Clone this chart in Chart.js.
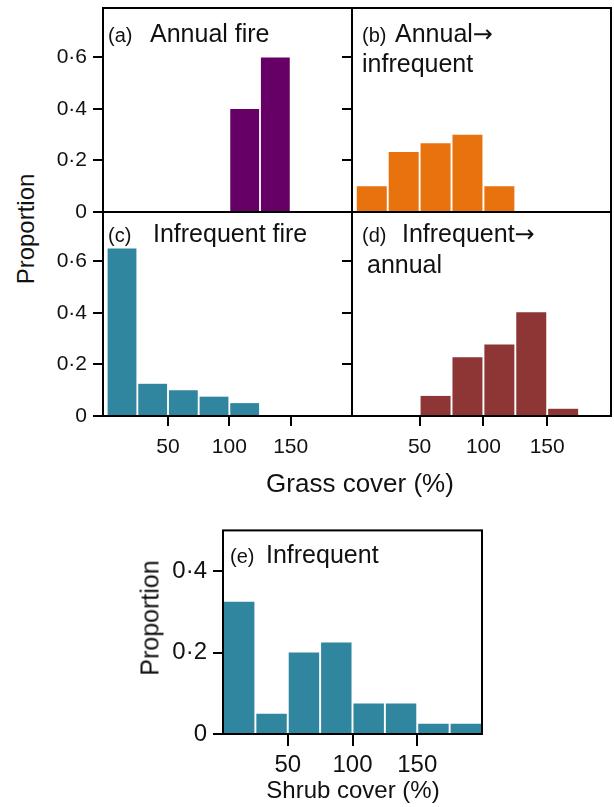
<!DOCTYPE html>
<html>
<head>
<meta charset="utf-8">
<script src="https://cdn.jsdelivr.net/npm/chart.js@4.4.0/dist/chart.umd.min.js"></script>
<style>
  body { margin: 0; background: #fff; }
  #fig { position: relative; width: 614px; height: 807px; overflow: hidden; font-family: "Liberation Sans", Arial, sans-serif; color: #111; }
  #fig canvas { position: absolute; }
  .lbl { position: absolute; white-space: nowrap; line-height: 1; }
  .tag { font-size: 20px; }
  .name { font-size: 25px; }
  .arrow { font-family: "DejaVu Sans", sans-serif; font-size: 24px; }
  .mid { transform: translate(-50%, -50%); }
  .vert { transform: translate(-50%, -50%) rotate(-90deg); }
</style>
</head>
<body>
<div id="fig">
  <canvas id="panelA"></canvas>
  <canvas id="panelB"></canvas>
  <canvas id="panelC"></canvas>
  <canvas id="panelD"></canvas>
  <canvas id="panelE"></canvas>

  <!-- panel titles -->
  <div class="lbl tag" style="left:108px; top:25px;">(a)</div>
  <div class="lbl name" style="left:150px; top:21px;">Annual fire</div>
  <div class="lbl tag" style="left:362px; top:25px;">(b)</div>
  <div class="lbl name" style="left:395px; top:21px;">Annual<span class="arrow">→</span></div>
  <div class="lbl name" style="left:362px; top:51px;">infrequent</div>
  <div class="lbl tag" style="left:108px; top:225px;">(c)</div>
  <div class="lbl name" style="left:153px; top:221px;">Infrequent fire</div>
  <div class="lbl tag" style="left:362px; top:225px;">(d)</div>
  <div class="lbl name" style="left:402px; top:221px;">Infrequent<span class="arrow">→</span></div>
  <div class="lbl name" style="left:367px; top:252px;">annual</div>
  <div class="lbl tag" style="left:230px; top:546px;">(e)</div>
  <div class="lbl name" style="left:266px; top:542px;">Infrequent</div>

  <!-- axis titles -->
  <div class="lbl vert" style="left:26px; top:229px; font-size:24px;">Proportion</div>
  <div class="lbl mid" style="left:360px; top:483px; font-size:26px;">Grass cover (%)</div>
  <div class="lbl vert" style="left:150px; top:618px; font-size:25px;">Proportion</div>
  <div class="lbl mid" style="left:353px; top:790px; font-size:24px;">Shrub cover (%)</div>
</div>

<script>
// Histogram bins (mid points, % cover) and proportions
const grassBins = [12.5, 37.5, 62.5, 87.5, 112.5, 137.5, 162.5, 187.5];
const annualFire = [0, 0, 0, 0, 0.4, 0.6, 0, 0];
const annualToInfrequent = [0.1, 0.233, 0.267, 0.3, 0.1, 0, 0, 0];
const infrequentFire = [0.65, 0.125, 0.1, 0.075, 0.05, 0, 0, 0];
const infrequentToAnnual = [0, 0, 0.078, 0.228, 0.278, 0.403, 0.028, 0];

const shrubBins = [12.5, 37.5, 62.5, 87.5, 112.5, 137.5, 162.5, 187.5];
const infrequentShrub = [0.325, 0.05, 0.2, 0.225, 0.075, 0.075, 0.025, 0.025];

// Tick labels
const grassYTicks = [0, 0.2, 0.4, 0.6];
const shrubYTicks = [0, 0.2, 0.4];
const coverTicks = [50, 100, 150];

const PAD = 20;   // spare room round each plot area
const Y_W = 60;   // y axis width
const X_H = 60;   // x axis height

const dotLabel = v => v === 0 ? '0' : String(Math.round(v * 10) / 10).replace('.', '·');

// Box round the plot area
const frame = {
    id: 'frame',
    afterDatasetsDraw(chart) {
        const a = chart.chartArea;
        const ctx = chart.ctx;
        ctx.save();
        ctx.strokeStyle = '#000';
        ctx.lineWidth = 2;
        ctx.strokeRect(a.left, a.top, a.right - a.left, a.bottom - a.top);
        ctx.restore();
    }
};

const makePanel = (id, box, bins, values, color, o) => {
    const canvas = document.getElementById(id);
    canvas.width = box.r - box.l + Y_W + PAD;
    canvas.height = box.b - box.t + PAD + (o.xLabels ? X_H : PAD);
    canvas.style.left = (box.l - Y_W) + 'px';
    canvas.style.top = (box.t - PAD) + 'px';

    new Chart(canvas, {
        type: 'bar',
        data: {
            datasets: [{
                data: bins.map((x, i) => ({ x: x, y: values[i] })),
                backgroundColor: color,
                borderWidth: 0,
                categoryPercentage: 0.94,
                barPercentage: 1
            }]
        },
        options: {
            responsive: false,
            animation: false,
            devicePixelRatio: 1,
            layout: { padding: { left: 0, top: PAD, right: PAD, bottom: o.xLabels ? 0 : PAD } },
            plugins: { legend: { display: false }, tooltip: { enabled: false } },
            scales: {
                x: {
                    type: 'linear',
                    offset: false,
                    min: o.xMin,
                    max: 200,
                    display: o.xLabels,
                    grid: { offset: false, drawOnChartArea: false, drawTicks: true, tickLength: o.xTickLen, color: '#000', lineWidth: 2 },
                    border: { display: false },
                    ticks: { font: { family: 'Liberation Sans', size: o.font }, color: '#111', padding: o.xPad, maxRotation: 0 },
                    afterBuildTicks: s => { s.ticks = coverTicks.map(v => ({ value: v })); },
                    afterFit: s => { if (o.xLabels) s.height = X_H; }
                },
                y: {
                    min: 0,
                    max: o.yMax,
                    grid: { drawOnChartArea: false, drawTicks: true, tickLength: 10, color: '#000', lineWidth: 2 },
                    border: { display: false },
                    ticks: { display: o.yLabels, font: { family: 'Liberation Sans', size: o.font }, color: '#111', padding: 6, callback: v => dotLabel(v) },
                    afterBuildTicks: s => { s.ticks = o.yTicks.map(v => ({ value: v })); },
                    afterFit: s => { s.width = Y_W; }
                }
            }
        },
        plugins: [frame]
    });
};

const grid = { yMax: 0.792, xMin: -3, yTicks: grassYTicks, font: 21, xTickLen: 10, xPad: 9 };

makePanel('panelA', { l: 103, t: 8, r: 352, b: 212 }, grassBins, annualFire, '#660066', { ...grid, yLabels: true, xLabels: false });
makePanel('panelB', { l: 352, t: 8, r: 611, b: 212 }, grassBins, annualToInfrequent, '#e8720e', { ...grid, yLabels: false, xLabels: false });
makePanel('panelC', { l: 103, t: 212, r: 352, b: 416 }, grassBins, infrequentFire, '#2f869e', { ...grid, yLabels: true, xLabels: true });
makePanel('panelD', { l: 352, t: 212, r: 611, b: 416 }, grassBins, infrequentToAnnual, '#8e3535', { ...grid, yLabels: false, xLabels: true });
makePanel('panelE', { l: 223, t: 530, r: 482, b: 734 }, shrubBins, infrequentShrub, '#2f869e',
    { yMax: 0.5, xMin: 0, yTicks: shrubYTicks, font: 24, xTickLen: 12, xPad: 5, yLabels: true, xLabels: true });
</script>
</body>
</html>
